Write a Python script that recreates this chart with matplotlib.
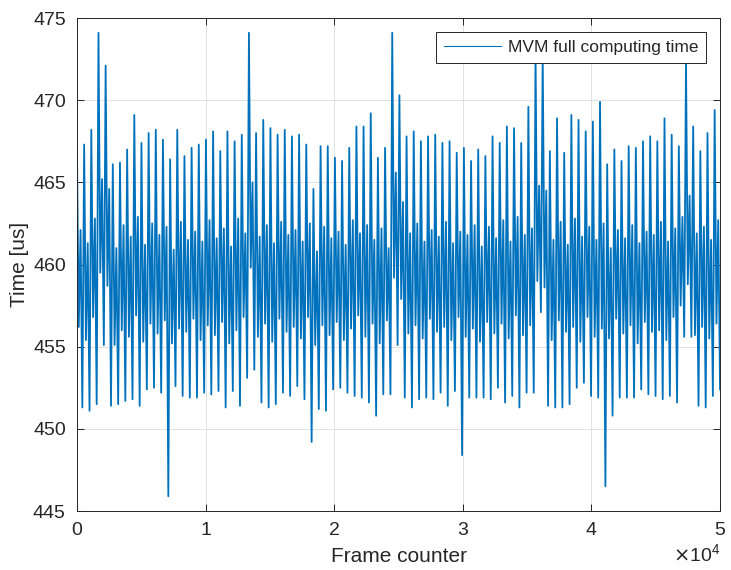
import matplotlib.pyplot as plt
import numpy as np

# per-cycle levels (about 90 cycles over 5e4 frames)
peaks = [466.9, 467.3, 468.2, 474.1, 472.1, 466.1, 466.2, 467.0, 469.1, 467.4,
         468.0, 468.2, 467.6, 466.4, 468.2, 466.6, 467.1, 467.3, 467.6, 468.1,
         466.9, 468.1, 467.5, 467.9, 474.1, 468.0, 468.8, 468.3, 467.9, 468.2,
         467.8, 467.9, 467.3, 464.6, 467.2, 467.2, 466.5, 466.3, 467.1, 468.4,
         468.4, 469.2, 466.5, 467.1, 474.1, 470.3, 467.8, 468.1, 467.5, 467.8,
         467.9, 467.4, 467.5, 466.8, 467.1, 466.3, 467.0, 466.6, 467.8, 467.4,
         468.4, 468.3, 467.4, 469.6, 473.0, 472.8, 466.9, 468.9, 466.8, 469.1,
         468.8, 468.1, 468.7, 469.9, 466.1, 467.0, 466.3, 467.2, 467.1, 467.5,
         467.8, 467.5, 468.9, 467.9, 467.2, 472.4, 468.4, 466.9, 468.0, 469.4]
mid_lo = [456.2, 455.4, 456.8, 459.5, 458.7, 455.1, 456.0, 455.6, 456.9, 455.3,
          456.4, 455.8, 456.6, 455.2, 456.1, 455.9, 456.7, 455.4, 456.3, 455.7,
          456.5, 455.2, 456.0, 456.8, 459.8, 455.6, 456.4, 455.3, 456.7, 455.9,
          456.2, 455.5, 456.8, 455.1, 456.3, 455.7, 456.5, 455.4, 456.1, 456.9,
          455.6, 456.4, 455.2, 456.6, 459.2, 457.9, 455.8, 456.3, 455.5, 456.7,
          455.9, 456.2, 455.4, 456.8, 455.6, 456.1, 455.3, 456.5, 455.8, 456.4,
          455.5, 456.9, 455.7, 456.3, 459.0, 458.6, 455.4, 456.6, 455.9, 456.2,
          455.3, 456.8, 455.6, 456.1, 455.5, 456.7, 455.8, 456.3, 455.2, 456.5,
          455.9, 456.0, 455.4, 456.8, 457.5, 458.8, 455.7, 456.2, 455.5, 456.4]
mid_hi = [462.1, 461.3, 462.8, 465.2, 464.6, 461.0, 462.4, 461.7, 462.9, 461.2,
          462.5, 461.8, 462.3, 460.9, 462.6, 461.5, 462.0, 461.4, 462.7, 461.6,
          462.2, 461.1, 462.8, 461.9, 465.0, 461.7, 462.4, 461.3, 462.6, 461.8,
          462.1, 461.4, 462.5, 460.8, 462.3, 461.6, 462.0, 461.2, 462.7, 461.9,
          462.4, 461.5, 462.2, 461.0, 465.6, 463.8, 461.9, 462.5, 461.4, 462.1,
          461.7, 462.6, 461.3, 462.0, 461.8, 462.4, 461.1, 462.3, 461.6, 462.7,
          461.4, 462.9, 461.8, 462.2, 464.8, 464.5, 461.5, 462.6, 461.2, 462.8,
          461.7, 462.3, 461.5, 462.5, 461.0, 462.1, 461.6, 462.4, 461.3, 462.0,
          461.8, 462.6, 461.4, 462.2, 462.9, 464.2, 461.9, 462.3, 461.5, 462.7]
troughs = [451.3, 451.1, 451.5, 455.1, 451.4, 451.5, 451.7, 451.8, 451.4, 452.4,
           452.5, 452.2, 445.9, 452.6, 452.0, 451.9, 451.9, 452.2, 452.1, 452.3,
           451.3, 452.3, 451.4, 453.1, 453.6, 451.6, 451.3, 451.5, 452.2, 452.0,
           452.6, 451.8, 449.2, 451.2, 451.1, 452.4, 452.5, 452.2, 452.0, 451.9,
           451.6, 450.8, 452.1, 452.1, 455.1, 451.9, 451.3, 451.8, 451.9, 451.8,
           452.2, 451.4, 452.3, 448.4, 451.9, 451.9, 451.9, 451.8, 452.5, 451.6,
           452.0, 451.3, 452.2, 452.2, 457.1, 451.4, 451.3, 451.3, 451.5, 452.5,
           452.8, 452.0, 451.9, 446.5, 450.8, 451.9, 451.9, 451.9, 452.4, 452.1,
           452.0, 451.8, 452.0, 451.6, 455.6, 455.6, 451.4, 451.3, 452.0, 452.4]

n_frames = 50000

time_us = np.column_stack([peaks, mid_lo, mid_hi, troughs]).ravel()
frame = np.linspace(0, n_frames, len(time_us))

plt.rcParams['font.family'] = ['Liberation Sans', 'DejaVu Sans']
dark = '#262626'

fig = plt.figure(figsize=(7.31, 5.70), dpi=100)
ax = fig.add_axes([0.1053, 0.1035, 0.8797, 0.8649])
ax.plot(frame, time_us, color='#0072BD', linewidth=1.3, label='MVM full computing time')

ax.set_xlim(0, n_frames)
ax.set_ylim(445, 475)
ax.set_yticks(np.arange(445, 476, 5))
ax.set_xticks(np.arange(0, 50001, 10000))
ax.ticklabel_format(style='sci', axis='x', scilimits=(0, 0), useMathText=True)
ax.xaxis.get_offset_text().set_fontsize(14)
ax.xaxis.get_offset_text().set_color(dark)

ax.grid(True, color='#dcdcdc', linewidth=0.6)
ax.set_axisbelow(True)
for s in ax.spines.values():
    s.set_color(dark)
    s.set_linewidth(0.7)
ax.tick_params(direction='in', top=True, right=True, length=5, width=0.7,
               colors=dark, labelsize=14, pad=8)

ax.set_xlabel('Frame counter', fontsize=15, color=dark, labelpad=6)
ax.set_ylabel('Time [us]', fontsize=15, color=dark, labelpad=3)

leg = ax.legend(loc='upper right', fontsize=12.5, fancybox=False, framealpha=1,
                edgecolor=dark, handlelength=3.3, handletextpad=0.4,
                borderaxespad=0.8, borderpad=0.45)
leg.get_frame().set_linewidth(0.7)
leg.get_lines()[0].set_linewidth(0.8)
for t in leg.get_texts():
    t.set_color(dark)

plt.savefig('out.png', dpi=100)
